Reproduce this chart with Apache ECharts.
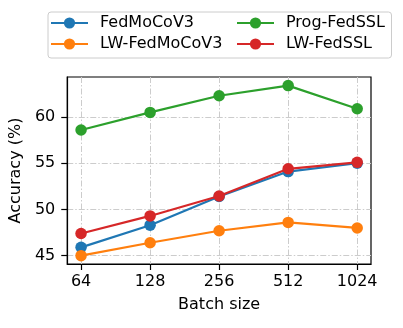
<!DOCTYPE html>
<html>
<head>
<meta charset="utf-8">
<script src="https://cdn.jsdelivr.net/npm/echarts@6/dist/echarts.min.js"></script>
<style>
html,body{margin:0;padding:0;background:#fff;}
#c{width:403px;height:328px;}
</style>
</head>
<body>
<div id="c"></div>
<script>
const batchSizes = ['64', '128', '256', '512', '1024'];
const yTicks = [45, 50, 55, 60];
const fedMoCoV3 = [45.9, 48.3, 51.4, 54.1, 55.0];
const lwFedMoCoV3 = [45.0, 46.4, 47.7, 48.6, 48.0];
const progFedSSL = [58.6, 60.5, 62.3, 63.4, 60.9];
const lwFedSSL = [47.4, 49.3, 51.45, 54.4, 55.1];
const seriesNames = ['FedMoCoV3', 'LW-FedMoCoV3', 'Prog-FedSSL', 'LW-FedSSL'];
const seriesColors = ['#1f77b4', '#ff7f0e', '#2ca02c', '#d62728'];
const allValues = [fedMoCoV3, lwFedMoCoV3, progFedSSL, lwFedSSL];

const FONT = '"DejaVu Sans", sans-serif';
const gridLine = { show: true, lineStyle: { color: '#cccccc', width: 1, type: [6, 2, 1.5, 2] } };

const chart = echarts.init(document.getElementById('c'), null, { renderer: 'canvas' });
const legendText = { fontFamily: FONT, fontSize: 16, color: '#000', lineHeight: 18, padding: [0, 0, 0, 7] };
chart.setOption({
  animation: false,
  backgroundColor: '#fff',
  textStyle: { fontFamily: FONT },
  grid: { left: 67, right: 32, top: 77, bottom: 64, show: true, borderColor: '#000', borderWidth: 1.2, backgroundColor: 'transparent' },
  graphic: [{
    type: 'rect', left: 47.5, top: 11.5, z: -1,
    shape: { width: 343.5, height: 46, r: 3 },
    style: { fill: '#fff', stroke: '#cccccc', lineWidth: 1 }
  }],
  legend: [
    { data: seriesNames.slice(0, 2), orient: 'vertical', left: 50, top: 14, itemWidth: 37, itemHeight: 14, itemGap: 3, padding: 0, textStyle: legendText },
    { data: seriesNames.slice(2, 4), orient: 'vertical', left: 236, top: 14, itemWidth: 37, itemHeight: 14, itemGap: 3, padding: 0, textStyle: legendText }
  ],
  xAxis: {
    type: 'value', min: -0.2, max: 4.2,
    name: 'Batch size', nameLocation: 'middle', nameGap: 33,
    nameTextStyle: { fontFamily: FONT, fontSize: 16, color: '#000' },
    axisLine: { show: true, onZero: false, lineStyle: { color: '#000', width: 1.2 } },
    axisTick: { show: true, length: 6, customValues: [0, 1, 2, 3, 4], lineStyle: { color: '#000', width: 1.2 } },
    axisLabel: { customValues: [0, 1, 2, 3, 4], margin: 10, fontFamily: FONT, fontSize: 16, color: '#000',
      formatter: v => batchSizes[Math.round(v)] },
    splitLine: gridLine
  },
  yAxis: {
    type: 'value', min: 44.1, max: 64.33,
    name: 'Accuracy (%)', nameLocation: 'middle', nameGap: 39,
    nameTextStyle: { fontFamily: FONT, fontSize: 16, color: '#000' },
    axisLine: { show: true, onZero: false, lineStyle: { color: '#000', width: 1.2 } },
    axisTick: { show: true, length: 6, customValues: yTicks, lineStyle: { color: '#000', width: 1.2 } },
    axisLabel: { customValues: yTicks, margin: 12, fontFamily: FONT, fontSize: 16, color: '#000' },
    splitLine: gridLine
  },
  series: allValues.map((vals, k) => ({
    name: seriesNames[k],
    type: 'line',
    data: vals.map((v, i) => [i, v]),
    symbol: 'circle',
    symbolSize: 11.5,
    showAllSymbol: true,
    color: seriesColors[k],
    lineStyle: { width: 2.2, color: seriesColors[k] },
    itemStyle: { color: seriesColors[k] },
    z: 2 + k
  }))
});
</script>
</body>
</html>
